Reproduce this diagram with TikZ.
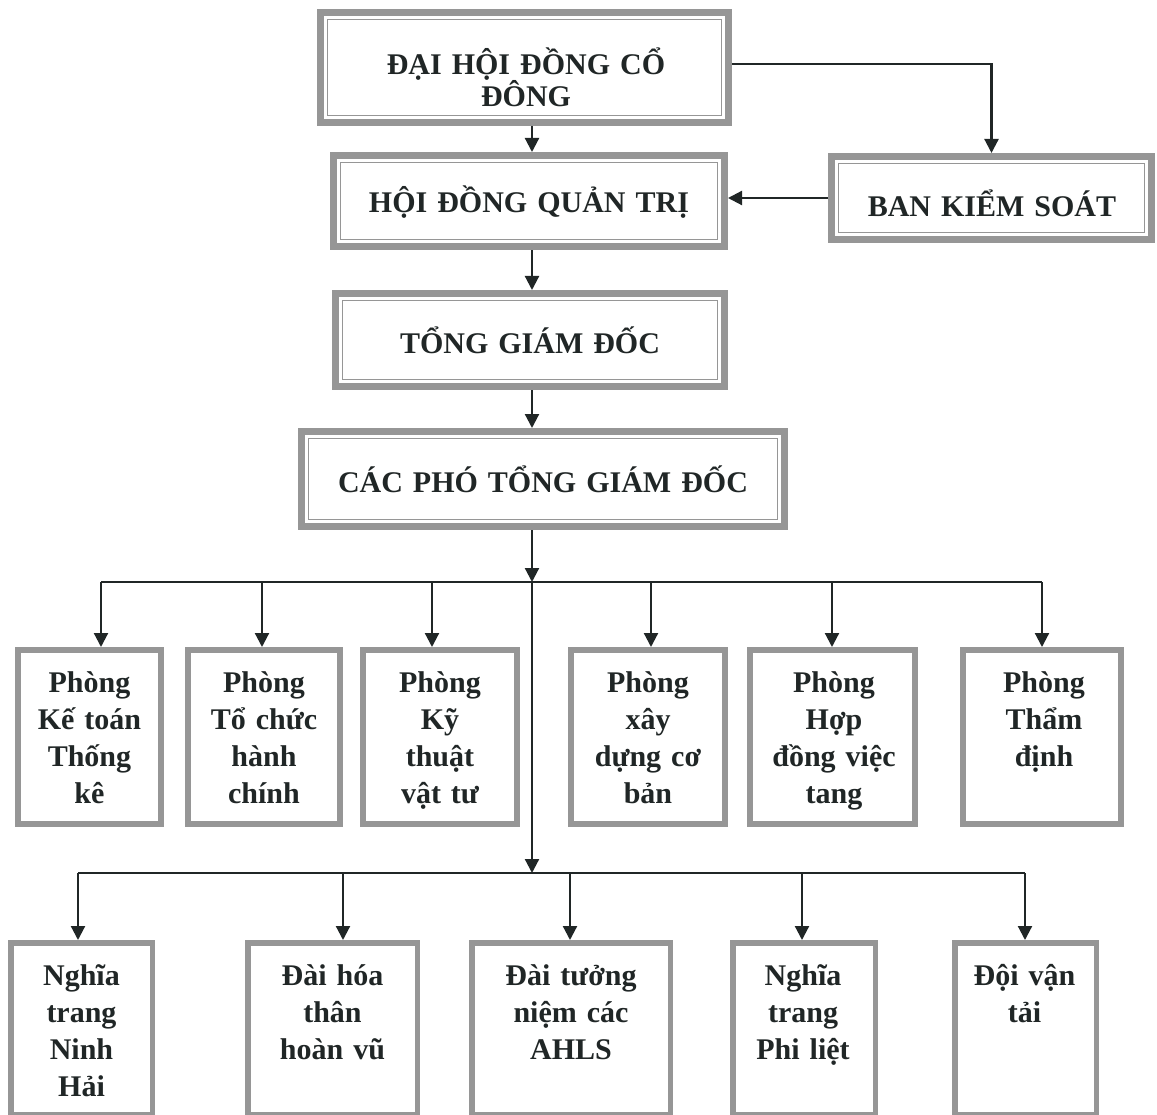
\documentclass[tikz,border=0pt]{standalone}
\usepackage{fontspec}
\setmainfont{Liberation Serif}
\usetikzlibrary{arrows.meta,backgrounds}
\definecolor{bordergray}{RGB}{150,150,150}
\definecolor{inkc}{RGB}{32,38,38}
\begin{document}
\begin{tikzpicture}[x=1pt,y=-1pt,
  topbox/.style={draw=bordergray, line width=7pt, fill=white, rectangle, inner sep=0pt, outer sep=0pt},
  rowbox/.style={draw=bordergray, line width=6pt, fill=white, rectangle, inner sep=0pt, outer sep=0pt, minimum height=174pt},
  lowbox/.style={draw=bordergray, line width=5.5pt, fill=white, rectangle, inner sep=0pt, outer sep=0pt, minimum height=171.5pt},
  innerline/.style={draw=bordergray, line width=1.5pt},
  lbl/.style={font=\bfseries\fontsize{30pt}{37pt}\selectfont, text=inkc, align=center, text width=420pt, anchor=base, inner sep=0pt},
  conn/.style={draw=inkc, line width=2.2pt},
  arr/.style={conn, -{Triangle[length=14pt,width=14pt]}},
]
\useasboundingbox (0,0) rectangle (1157,1115);

% ---- top boxes ----
\node[topbox, minimum width=408pt, minimum height=110pt] (A) at (524.5,67.5) {};
\node[topbox, minimum width=391pt, minimum height=91pt] (B) at (529,201) {};
\node[topbox, minimum width=320pt, minimum height=83pt] (K) at (991.5,198) {};
\node[topbox, minimum width=389pt, minimum height=93pt] (T) at (530,340) {};
\node[topbox, minimum width=483pt, minimum height=95pt] (P) at (543,479) {};
\foreach \b in {A,B,K,T,P}{
  \draw[innerline] ([xshift=7pt,yshift=-7pt]\b.north west) rectangle ([xshift=-7pt,yshift=7pt]\b.south east);
}
\node[lbl, font=\bfseries\fontsize{30pt}{32pt}\selectfont] (At) at (526,75) {ĐẠI HỘI ĐỒNG CỔ\\ĐÔNG};
\node[lbl] (Bt) at (529,213) {HỘI ĐỒNG QUẢN TRỊ};
\node[lbl] (Kt) at (992,217) {BAN KIỂM SOÁT};
\node[lbl] (Tt) at (530,353) {TỔNG GIÁM ĐỐC};
\node[lbl] (Pt) at (543,492) {CÁC PHÓ TỔNG GIÁM ĐỐC};

% ---- row 1 ----
\node[rowbox, minimum width=143pt] (r1) at (89.5,737) {};
\node[rowbox, minimum width=152pt] (r2) at (264,737) {};
\node[rowbox, minimum width=154pt] (r3) at (440,737) {};
\node[rowbox, minimum width=154pt] (r4) at (648,737) {};
\node[rowbox, minimum width=165pt] (r5) at (832.5,737) {};
\node[rowbox, minimum width=158pt] (r6) at (1042,737) {};
\node[lbl] (r1t) at (89.5,692) {Phòng\\Kế toán\\Thống\\kê};
\node[lbl] (r2t) at (264,692) {Phòng\\Tổ chức\\hành\\chính};
\node[lbl] (r3t) at (440,692) {Phòng\\Kỹ\\thuật\\vật tư};
\node[lbl] (r4t) at (648,692) {Phòng\\xây\\dựng cơ\\bản};
\node[lbl] (r5t) at (834,692) {Phòng\\Hợp\\đồng việc\\tang};
\node[lbl] (r6t) at (1044,692) {Phòng\\Thẩm\\định};

% ---- row 2 ----
\node[lowbox, minimum width=141.5pt] (s1) at (81.5,1028.5) {};
\node[lowbox, minimum width=169.5pt] (s2) at (332.5,1028.5) {};
\node[lowbox, minimum width=198.5pt] (s3) at (571,1028.5) {};
\node[lowbox, minimum width=142.5pt] (s4) at (804,1028.5) {};
\node[lowbox, minimum width=141.5pt] (s5) at (1025.5,1028.5) {};
\node[lbl] (s1t) at (81.5,985) {Nghĩa\\trang\\Ninh\\Hải};
\node[lbl] (s2t) at (332.5,985) {Đài hóa\\thân\\hoàn vũ};
\node[lbl] (s3t) at (571,985) {Đài tưởng\\niệm các\\AHLS};
\node[lbl] (s4t) at (803,985) {Nghĩa\\trang\\Phi liệt};
\node[lbl] (s5t) at (1024.5,985) {Đội vận\\tải};

% ---- junction coordinates ----
\coordinate (j1) at (532,582);
\coordinate (j2) at (532,873);
\coordinate (d11) at (101,582);
\coordinate (d12) at (262,582);
\coordinate (d13) at (432,582);
\coordinate (d14) at (651,582);
\coordinate (d15) at (832,582);
\coordinate (d16) at (1042,582);
\coordinate (d21) at (78,873);
\coordinate (d22) at (343,873);
\coordinate (d23) at (570,873);
\coordinate (d24) at (802,873);
\coordinate (d25) at (1025,873);

\begin{scope}[on background layer]
  % top part
  \draw[arr, shorten >=3.5pt] ([yshift=3.5pt]A.east) -| (K.north);
  \draw[arr, shorten >=3.5pt] (K.west) -- (K.west -| B.east);
  \draw[arr, shorten >=3.5pt] (A.south -| j1) -- (B.north -| j1);
  \draw[arr, shorten >=3.5pt] (B.south -| j1) -- (T.north -| j1);
  \draw[arr, shorten >=3.5pt] (T.south -| j1) -- (P.north -| j1);
  \draw[arr] (P.south -| j1) -- (j1);
  \draw[arr] (j1) -- (j2);
  % bus 1
  \draw[conn] (d11) -- (d16);
  \foreach \d/\r in {d11/r1,d12/r2,d13/r3,d14/r4,d15/r5,d16/r6}{
    \draw[arr, shorten >=3pt] (\d) -- (\d |- \r.north);
  }
  % bus 2
  \draw[conn] (d21) -- (d25);
  \foreach \d/\s in {d21/s1,d22/s2,d23/s3,d24/s4,d25/s5}{
    \draw[arr, shorten >=2.75pt] (\d) -- (\d |- \s.north);
  }
\end{scope}
\end{tikzpicture}
\end{document}
